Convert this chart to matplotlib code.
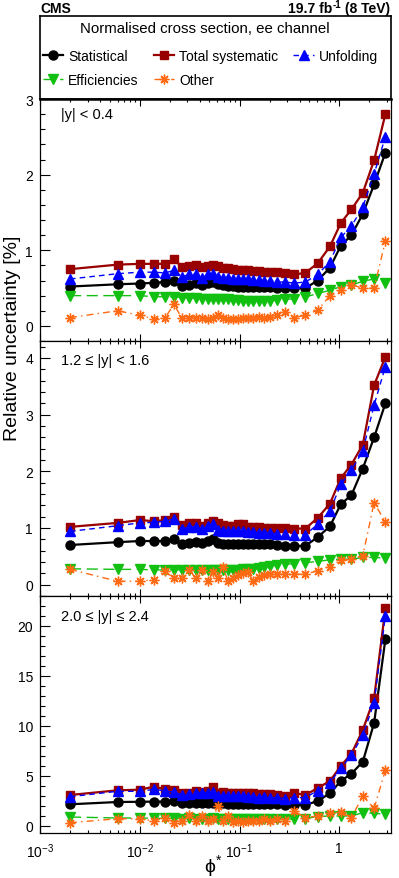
import numpy as np
import matplotlib

matplotlib.use('agg')
import matplotlib.pyplot as plt
from matplotlib.ticker import MultipleLocator, FixedLocator, FixedFormatter, LogLocator, NullFormatter

plt.rcParams['font.family'] = ['Liberation Sans', 'DejaVu Sans']
plt.rcParams['mathtext.fontset'] = 'custom'
plt.rcParams['mathtext.rm'] = 'Liberation Sans'
plt.rcParams['mathtext.it'] = 'Liberation Sans:italic'
plt.rcParams['mathtext.bf'] = 'Liberation Sans:bold'

# phi* bin centres
phistar = [0.002, 0.006, 0.010, 0.014, 0.018, 0.022, 0.0265, 0.0315, 0.0365,
           0.042, 0.0485, 0.0545, 0.0605, 0.068, 0.0765, 0.086, 0.0965, 0.108,
           0.121, 0.1365, 0.155, 0.177, 0.204, 0.2385, 0.285, 0.3515, 0.4575,
           0.6095, 0.8065, 1.0355, 1.3245, 1.7215, 2.2345, 2.8995]

# |y| < 0.4
stat_y1 = [0.52, 0.55, 0.56, 0.57, 0.58, 0.59, 0.53, 0.54, 0.57, 0.54, 0.57, 0.58,
           0.55, 0.54, 0.53, 0.53, 0.52, 0.52, 0.515, 0.515, 0.515, 0.51, 0.51,
           0.505, 0.50, 0.50, 0.50, 0.60, 0.77, 1.06, 1.20, 1.48, 1.87, 2.29]
syst_y1 = [0.75, 0.81, 0.82, 0.82, 0.82, 0.88, 0.78, 0.79, 0.80, 0.78, 0.79, 0.81,
           0.79, 0.77, 0.76, 0.75, 0.745, 0.745, 0.735, 0.725, 0.72, 0.715, 0.715,
           0.715, 0.70, 0.68, 0.70, 0.83, 1.05, 1.36, 1.54, 1.76, 2.19, 2.80]
unf_y1 = [0.62, 0.69, 0.71, 0.71, 0.70, 0.735, 0.65, 0.68, 0.68, 0.635, 0.68, 0.69,
          0.65, 0.635, 0.635, 0.625, 0.625, 0.615, 0.615, 0.605, 0.605, 0.595, 0.595,
          0.58, 0.58, 0.565, 0.58, 0.68, 0.85, 1.17, 1.32, 1.57, 2.01, 2.50]
eff_y1 = [0.40, 0.40, 0.40, 0.385, 0.385, 0.385, 0.375, 0.37, 0.37, 0.36, 0.36, 0.355,
          0.35, 0.35, 0.35, 0.34, 0.34, 0.33, 0.33, 0.33, 0.325, 0.325, 0.33, 0.34,
          0.35, 0.36, 0.38, 0.43, 0.47, 0.52, 0.54, 0.59, 0.62, 0.57]
oth_y1 = [0.11, 0.20, 0.14, 0.09, 0.11, 0.285, 0.10, 0.11, 0.11, 0.10, 0.09, 0.11,
          0.15, 0.10, 0.09, 0.09, 0.085, 0.10, 0.11, 0.10, 0.12, 0.10, 0.12, 0.15,
          0.19, 0.11, 0.14, 0.21, 0.40, 0.47, 0.54, 0.50, 0.50, 1.12]

# 1.2 <= |y| < 1.6
stat_y2 = [0.70, 0.75, 0.77, 0.77, 0.77, 0.81, 0.72, 0.73, 0.75, 0.74, 0.77, 0.80,
           0.73, 0.71, 0.71, 0.71, 0.72, 0.72, 0.72, 0.715, 0.71, 0.71, 0.71, 0.695,
           0.685, 0.685, 0.685, 0.84, 1.03, 1.42, 1.58, 2.05, 2.60, 3.20]
syst_y2 = [1.02, 1.09, 1.14, 1.12, 1.14, 1.20, 1.05, 1.08, 1.08, 1.04, 1.08, 1.13,
           1.08, 1.05, 1.04, 1.04, 1.07, 1.07, 1.02, 1.02, 1.01, 1.00, 1.00, 1.00,
           1.00, 0.99, 0.99, 1.18, 1.43, 1.88, 2.12, 2.47, 3.52, 4.02]
unf_y2 = [0.94, 1.04, 1.09, 1.10, 1.12, 1.16, 0.98, 1.02, 1.02, 0.98, 1.03, 1.07,
          0.97, 0.94, 0.94, 0.94, 0.95, 0.95, 0.93, 0.93, 0.92, 0.92, 0.91, 0.90,
          0.89, 0.88, 0.88, 1.07, 1.30, 1.77, 2.02, 2.36, 3.17, 3.85]
eff_y2 = [0.28, 0.27, 0.27, 0.26, 0.26, 0.265, 0.26, 0.26, 0.255, 0.255, 0.255, 0.26,
          0.26, 0.26, 0.26, 0.265, 0.265, 0.27, 0.27, 0.28, 0.29, 0.31, 0.33, 0.34,
          0.36, 0.37, 0.39, 0.41, 0.44, 0.45, 0.45, 0.48, 0.48, 0.47]
oth_y2 = [0.27, 0.06, 0.06, 0.09, 0.24, 0.11, 0.11, 0.26, 0.11, 0.26, 0.07, 0.22,
          0.11, 0.31, 0.07, 0.11, 0.17, 0.21, 0.22, 0.07, 0.13, 0.17, 0.19, 0.19,
          0.18, 0.19, 0.18, 0.25, 0.32, 0.43, 0.45, 0.51, 1.45, 1.10]

# 2.0 <= |y| <= 2.4
stat_y3 = [2.17, 2.40, 2.42, 2.44, 2.44, 2.50, 2.27, 2.27, 2.33, 2.27, 2.33, 2.33,
           2.27, 2.27, 2.25, 2.25, 2.25, 2.22, 2.22, 2.22, 2.20, 2.20, 2.20, 2.17,
           2.10, 2.10, 2.10, 2.50, 3.27, 4.50, 5.23, 6.43, 10.3, 18.7]
syst_y3 = [3.10, 3.57, 3.63, 3.94, 3.67, 3.60, 3.34, 3.34, 3.50, 3.40, 3.50, 3.90,
           3.34, 3.40, 3.34, 3.34, 3.34, 3.27, 3.27, 3.27, 3.17, 3.17, 3.17, 3.07,
           3.00, 3.30, 3.10, 3.80, 4.50, 6.00, 7.23, 9.60, 12.77, 21.77]
unf_y3 = [2.93, 3.47, 3.47, 3.67, 3.50, 3.40, 3.10, 3.17, 3.34, 3.27, 3.30, 3.40,
          3.00, 3.00, 3.05, 3.05, 3.00, 3.00, 2.94, 2.94, 2.84, 2.94, 2.84, 2.84,
          2.74, 2.84, 2.84, 3.55, 4.33, 5.77, 7.07, 9.07, 12.33, 21.0]
eff_y3 = [0.90, 0.80, 0.80, 0.78, 0.76, 0.76, 0.75, 0.76, 0.75, 0.74, 0.75, 0.76,
          0.75, 0.74, 0.74, 0.75, 0.74, 0.74, 0.75, 0.74, 0.74, 0.75, 0.74, 0.73,
          0.74, 0.67, 0.75, 0.95, 1.00, 1.00, 1.00, 1.33, 1.27, 1.17]
oth_y3 = [0.33, 0.73, 0.73, 0.50, 0.84, 0.34, 0.50, 1.07, 0.50, 1.00, 0.50, 0.74,
          2.00, 0.50, 1.00, 0.40, 0.50, 0.40, 0.50, 0.50, 0.50, 0.67, 0.50, 0.67,
          0.50, 1.50, 0.84, 1.00, 1.27, 1.40, 0.83, 3.00, 1.77, 5.57]

source_names = ["Statistical", "Total systematic", "Unfolding", "Efficiencies", "Other"]
panel_labels = [r"|y| < 0.4", "1.2 \u2264 |y| < 1.6", "2.0 \u2264 |y| \u2264 2.4"]
panels = [
    [stat_y1, syst_y1, unf_y1, eff_y1, oth_y1],
    [stat_y2, syst_y2, unf_y2, eff_y2, oth_y2],
    [stat_y3, syst_y3, unf_y3, eff_y3, oth_y3],
]

styles = [
    dict(color='black', lw=1.6, ls='-', marker='o', ms=6.5),
    dict(color='#990000', lw=1.6, ls='-', marker='s', ms=6.2),
    dict(color='#0000ff', lw=1.0, ls=(0, (4, 3)), marker='^', ms=6.5),
    dict(color='#11c011', lw=1.0, ls=(0, (8, 4)), marker='v', ms=6.5),
    dict(color='#ff6a13', lw=1.0, ls=(0, (5, 3, 1, 3)), marker=(8, 2, 0), ms=7, mew=1.0),
]

W, H = 399., 879.


def frac(x0, y0, x1, y1):
    return [x0 / W, 1 - y1 / H, (x1 - x0) / W, (y1 - y0) / H]


fig = plt.figure(figsize=(W / 100., H / 100.), dpi=100)

ax_leg = fig.add_axes(frac(40, 17, 391, 100))
ax_leg.set_xticks([])
ax_leg.set_yticks([])
for sp in ax_leg.spines.values():
    sp.set_linewidth(1.2)

boxes = [frac(40, 100, 391, 342), frac(40, 342, 391, 597), frac(40, 597, 391, 834)]
ylims = [(-0.2, 3.0), (-0.2, 4.3), (-0.7, 23.0)]
ymajor = [1, 1, 5]
yminor = [0.2, 0.2, 1]
label_y = [0.94, 0.927, 0.917]

axes = []
for i, box in enumerate(boxes):
    ax = fig.add_axes(box)
    axes.append(ax)
    lines = []
    for vals, st in zip(panels[i], styles):
        ln, = ax.plot(phistar, vals, **st)
        lines.append(ln)
    if i == 0:
        handles = lines
    ax.set_xscale('log')
    ax.set_xlim(1e-3, 3.3)
    ax.set_ylim(*ylims[i])
    ax.yaxis.set_major_locator(MultipleLocator(ymajor[i]))
    ax.yaxis.set_minor_locator(MultipleLocator(yminor[i]))
    ax.xaxis.set_major_locator(FixedLocator([1e-3, 1e-2, 1e-1, 1]))
    ax.xaxis.set_minor_locator(LogLocator(base=10, subs=np.arange(2, 10), numticks=20))
    ax.xaxis.set_minor_formatter(NullFormatter())
    if i == 2:
        ax.xaxis.set_major_formatter(FixedFormatter([r'$10^{-3}$', r'$10^{-2}$', r'$10^{-1}$', '1']))
    else:
        ax.xaxis.set_major_formatter(NullFormatter())
    ax.tick_params(axis='both', which='both', direction='in', top=True, right=False,
                   labelsize=10, width=0.8)
    ax.tick_params(axis='y', which='major', length=7, pad=5)
    ax.tick_params(axis='y', which='minor', length=3.5)
    ax.tick_params(axis='x', which='major', length=5, pad=6)
    ax.tick_params(axis='x', which='minor', length=2.5)
    for sp in ax.spines.values():
        sp.set_linewidth(0.9)
    ax.text(0.059, label_y[i], panel_labels[i], transform=ax.transAxes,
            fontsize=10.5, ha='left', va='center')

axes[0].spines['top'].set_linewidth(1.8)

ax_leg.text(0.47, 0.855, "Normalised cross section, ee channel", transform=ax_leg.transAxes,
            fontsize=10.8, ha='center', va='center')
order = [0, 3, 1, 4, 2]
ax_leg.legend([handles[k] for k in order], [source_names[k] for k in order],
              ncol=3, loc='upper left', bbox_to_anchor=(0.0085, 0.60), frameon=False,
              fontsize=10, borderpad=0, borderaxespad=0, handlelength=1.45,
              handletextpad=0.36, columnspacing=1.1, labelspacing=0.72, numpoints=1)

# header texts; the lumi label is put together from pieces so the
# superscript does not run off the top edge
fig.text(40 / W, 1 - 13 / H, "CMS", fontsize=10, fontweight='bold', ha='left', va='baseline')
renderer = fig.canvas.get_renderer()
t_end = fig.text(390 / W, 1 - 13 / H, " (8 TeV)", fontsize=10, fontweight='bold',
                 ha='right', va='baseline')
x_end = t_end.get_window_extent(renderer).x0
t_sup = fig.text(x_end / (W), 1 - 8.5 / H, "-1", fontsize=7, fontweight='bold',
                 ha='right', va='baseline')
x_sup = t_sup.get_window_extent(renderer).x0
fig.text(x_sup / W, 1 - 13 / H, "19.7 fb", fontsize=10, fontweight='bold',
         ha='right', va='baseline')

fig.text(13 / W, 1 - 338 / H, "Relative uncertainty [%]", fontsize=14, rotation=90,
         ha='center', va='center')
fig.text(213 / W, 1 - 866 / H, "\u03d5$^{*}$", fontsize=14, ha='center', va='center')

fig.savefig('out.png', dpi=100)
